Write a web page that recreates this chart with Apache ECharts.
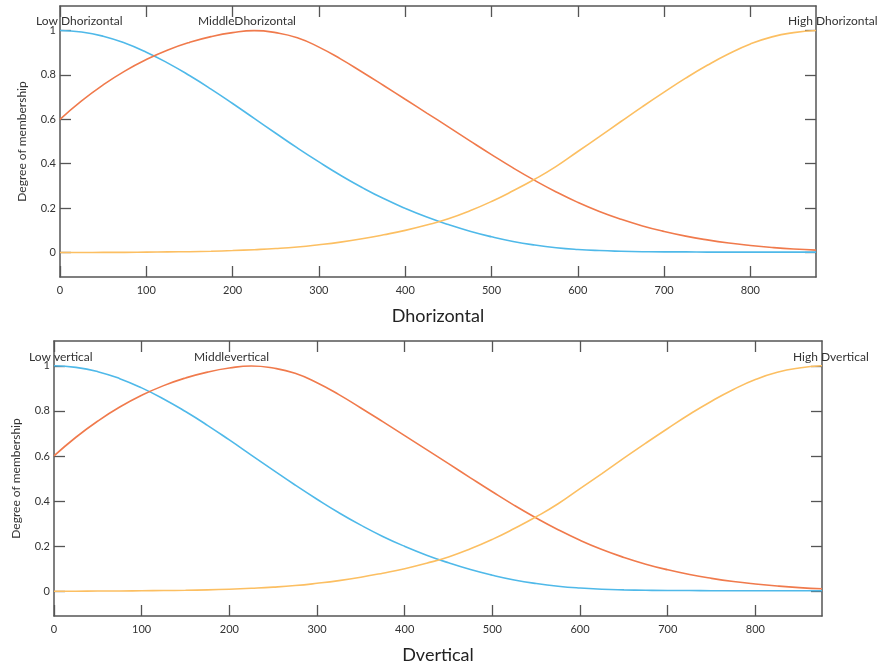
<!DOCTYPE html>
<html>
<head>
<meta charset="utf-8">
<script src="https://cdn.jsdelivr.net/npm/echarts@6/dist/echarts.min.js"></script>
<style>
  html, body { margin: 0; padding: 0; background: #fff; }
  #main { width: 885px; height: 669px; }
</style>
</head>
<body>
<div id="main"></div>
<script>
// distance values (x) shared by every curve
var xValues = [0, 25, 50, 75, 100, 125, 150, 175, 200, 225, 250, 275, 300, 325, 350, 375, 400, 425,
    450, 475, 500, 525, 550, 575, 600, 625, 650, 675, 700, 725, 750, 775, 800, 825, 850, 876];
// degree of membership
var lowValues = [1.0, 0.993, 0.974, 0.943, 0.902, 0.853, 0.797, 0.736, 0.671, 0.604, 0.537, 0.471, 0.408, 0.348, 0.293, 0.243, 0.199, 0.16,
    0.126, 0.096, 0.071, 0.05, 0.034, 0.022, 0.014, 0.009, 0.006, 0.004, 0.003, 0.003, 0.002, 0.002, 0.002, 0.002, 0.002, 0.002];
var middleValues = [0.60, 0.683, 0.755, 0.817, 0.869, 0.912, 0.946, 0.972, 0.99, 0.999, 0.99, 0.967, 0.925, 0.872, 0.813, 0.752, 0.69, 0.628,
    0.566, 0.503, 0.441, 0.381, 0.325, 0.273, 0.226, 0.185, 0.15, 0.12, 0.095, 0.074, 0.057, 0.043, 0.032, 0.023, 0.016, 0.011];
var highValues = [0, 0, 0.001, 0.001, 0.002, 0.003, 0.004, 0.006, 0.009, 0.013, 0.018, 0.025, 0.035, 0.047, 0.062, 0.08, 0.10, 0.124,
    0.152, 0.188, 0.23, 0.278, 0.33, 0.388, 0.455, 0.522, 0.59, 0.657, 0.722, 0.785, 0.843, 0.895, 0.939, 0.971, 0.99, 1.0];

var xTicks = [0, 100, 200, 300, 400, 500, 600, 700, 800];
var yTicks = [0, 0.2, 0.4, 0.6, 0.8, 1];
var xTitles = ['Dhorizontal', 'Dvertical'];
var yTitle = 'Degree of membership';
var curveNames = [
    ['Low Dhorizontal', 'MiddleDhorizontal', 'High Dhorizontal'],
    ['Low vertical', 'Middlevertical', 'High Dvertical']
];

var colors = ['#4fb9e9', '#f07a4c', '#fcbf62'];
var axisColor = '#555';
var textColor = '#333';
var font = 'Lato';

function pairs(ys) {
    return xValues.map(function (x, i) { return [x, ys[i]]; });
}

var myChart = echarts.init(document.getElementById('main'), null, { renderer: 'canvas' });

var grids = [
    { left: 60, top: 6, width: 756, height: 271 },
    { left: 54, top: 341, width: 768, height: 275 }
];

var xAxes = [], yAxes = [], series = [];
grids.forEach(function (g, gi) {
    xAxes.push({
        type: 'value', gridIndex: gi, position: 'bottom',
        min: 0, max: 876,
        name: xTitles[gi], nameLocation: 'middle', nameGap: 30,
        nameTextStyle: { fontFamily: font, fontSize: 18, color: '#222' },
        axisLine: { onZero: false, lineStyle: { color: axisColor, width: 1.5 } },
        axisTick: { inside: true, length: 11, customValues: xTicks, lineStyle: { color: axisColor, width: 1.3 } },
        axisLabel: { customValues: xTicks, margin: 8, fontFamily: font, fontSize: 11, color: textColor },
        splitLine: { show: false }
    });
    xAxes.push({
        type: 'value', gridIndex: gi, position: 'top',
        min: 0, max: 876,
        axisLine: { onZero: false, lineStyle: { color: axisColor, width: 1.5 } },
        axisTick: { inside: true, length: 11, customValues: xTicks, lineStyle: { color: axisColor, width: 1.3 } },
        axisLabel: { show: false },
        splitLine: { show: false }
    });
    yAxes.push({
        type: 'value', gridIndex: gi, position: 'left',
        min: -0.11, max: 1.11,
        name: yTitle, nameLocation: 'middle', nameGap: 32,
        nameTextStyle: { fontFamily: font, fontSize: 12, color: textColor },
        axisLine: { onZero: false, lineStyle: { color: axisColor, width: 1.5 } },
        axisTick: { inside: true, length: 11, customValues: yTicks, lineStyle: { color: axisColor, width: 1.3 } },
        axisLabel: { customValues: yTicks, margin: 4, fontFamily: font, fontSize: 11, color: textColor },
        splitLine: { show: false }
    });
    yAxes.push({
        type: 'value', gridIndex: gi, position: 'right',
        min: -0.11, max: 1.11,
        axisLine: { onZero: false, lineStyle: { color: axisColor, width: 1.5 } },
        axisTick: { inside: true, length: 11, customValues: yTicks, lineStyle: { color: axisColor, width: 1.3 } },
        axisLabel: { show: false },
        splitLine: { show: false }
    });
    [lowValues, middleValues, highValues].forEach(function (vals, si) {
        series.push({
            name: curveNames[gi][si],
            type: 'line',
            xAxisIndex: gi * 2,
            yAxisIndex: gi * 2,
            data: pairs(vals),
            smooth: true,
            showSymbol: false,
            lineStyle: { color: colors[si], width: 1.6 },
            itemStyle: { color: colors[si] },
            z: 1
        });
    });
});

// curve names written above the frames
var labelPos = [
    [[36, 15], [198, 15], [788, 15]],
    [[29, 351], [194, 351], [793, 351]]
];
var graphics = [];
labelPos.forEach(function (row, gi) {
    row.forEach(function (p, si) {
        graphics.push({
            type: 'text', left: p[0], top: p[1], z: 100,
            style: { text: curveNames[gi][si], fill: textColor, font: '12px ' + font }
        });
    });
});

var option = {
    animation: false,
    backgroundColor: '#fff',
    grid: grids,
    xAxis: xAxes,
    yAxis: yAxes,
    series: series,
    graphic: graphics
};
myChart.setOption(option);
</script>
</body>
</html>
